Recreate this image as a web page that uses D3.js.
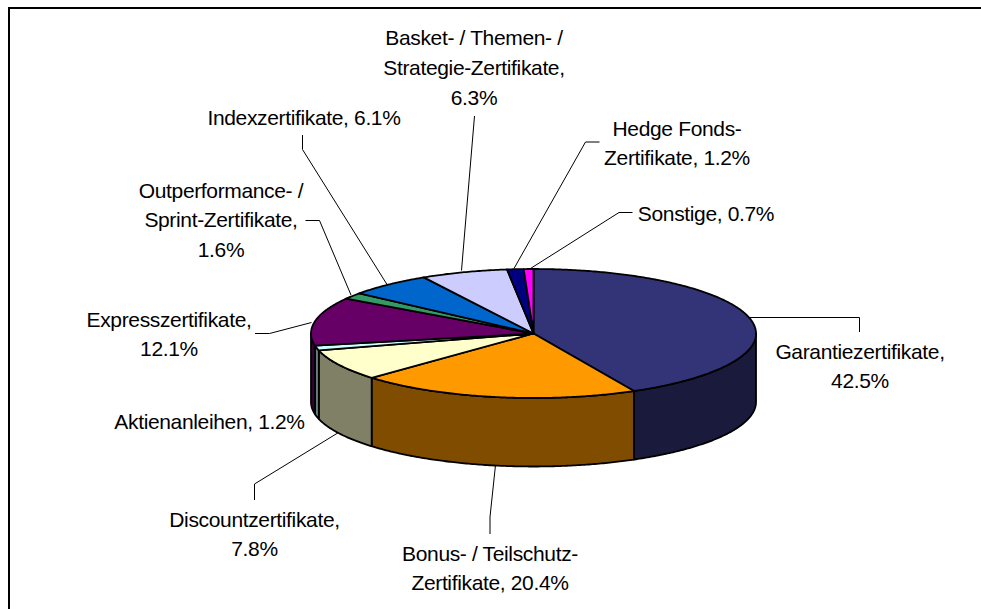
<!DOCTYPE html>
<html>
<head>
<meta charset="utf-8">
<script src="https://cdn.jsdelivr.net/npm/d3@7"></script>
<style>
    html, body { margin: 0; padding: 0; background: #fff; }
    svg { display: block; }
    text { font-family: "Liberation Sans", Arial, sans-serif; font-size: 21px; letter-spacing: -0.35px; fill: #000; }
</style>
</head>
<body>
<div id="chart"></div>
<script>
// data, clockwise from 12 o'clock. \n = line break in the label
var categories = [
    "Garantiezertifikate",
    "Bonus- / Teilschutz-\nZertifikate",
    "Discountzertifikate",
    "Aktienanleihen",
    "Expresszertifikate",
    "Outperformance- /\nSprint-Zertifikate",
    "Indexzertifikate",
    "Basket- / Themen- /\nStrategie-Zertifikate",
    "Hedge Fonds-\nZertifikate",
    "Sonstige"
];
var values = [42.5, 20.4, 7.8, 1.2, 12.1, 1.6, 6.1, 6.3, 1.2, 0.7];
// percent on its own line or behind the name
var valueOnOwnLine = [true, false, true, false, true, true, false, true, false, false];

var topColors = ["#333377", "#FF9900", "#FFFFCC", "#CCFFFF", "#660066", "#339966", "#0066CC", "#CCCCFF", "#000080", "#FF00FF"];
var sideColors = ["#1A1A3C", "#804D00", "#808066", "#668080", "#330033", "#1A4D33", "#003366", "#666680", "#000040", "#800080"];

// label anchors: centre x and first baseline, leader polyline
var labelLayout = [
    { x: 860, y: 358.5, leader: [[859.5, 332], [859.5, 317.5], [750, 317.5]] },
    { x: 490, y: 560.5, leader: [[490, 534], [490, 517], [495.5, 465]] },
    { x: 254.5, y: 526.5, leader: [[254.5, 500], [254.5, 484], [338.5, 432.5]] },
    { x: 209.5, y: 428.5, leader: null },
    { x: 169, y: 326.5, leader: [[255, 333.5], [269.5, 333.5], [311.5, 322.5]] },
    { x: 221, y: 197.5, leader: [[305.5, 220.5], [319.5, 220.5], [351, 295]] },
    { x: 304, y: 124.5, leader: [[302.5, 135], [302.5, 149.5], [387, 284.5]] },
    { x: 474, y: 45, leader: [[474.5, 116], [461.5, 270.5]] },
    { x: 677, y: 135.5, leader: [[599.5, 142], [585.5, 142], [514, 268.5]] },
    { x: 706, y: 220.5, leader: [[632.5, 212.5], [619, 212.5], [530.5, 268.5]] }
];

var width = 981, height = 609;
var cx = 533.5, cy = 333.5, rx = 222.5, ry = 64.5, depth = 68.5;

var svg = d3.select("#chart").append("svg")
    .attr("width", width)
    .attr("height", height);

// chart frame, only top and left are in the picture
svg.append("path")
    .attr("d", "M9," + height + "V8H" + width)
    .attr("fill", "none")
    .attr("stroke", "#000")
    .attr("stroke-width", 2);

var pie = d3.pie().sort(null).value(function(d) { return d; });
var slices = pie(values);

var color = d3.scaleOrdinal().domain(d3.range(values.length)).range(topColors);
var sideColor = d3.scaleOrdinal().domain(d3.range(values.length)).range(sideColors);

// angle on the tilted disc -> screen position
function project(a, dy) {
    return [cx + rx * Math.sin(a), cy - ry * Math.cos(a) + (dy || 0)];
}

function arcPoints(a0, a1, dy) {
    var n = Math.max(2, Math.ceil((a1 - a0) / 0.01));
    return d3.range(n + 1).map(function(i) {
        return project(a0 + (a1 - a0) * i / n, dy);
    });
}

var line = d3.line();

// outer wall, only the part facing the viewer
var front = [Math.PI / 2, Math.PI * 3 / 2];
svg.append("g").selectAll("path")
    .data(slices.filter(function(d) { return d.endAngle > front[0] && d.startAngle < front[1]; }))
    .join("path")
    .attr("d", function(d) {
        var a0 = Math.max(d.startAngle, front[0]);
        var a1 = Math.min(d.endAngle, front[1]);
        return line(arcPoints(a0, a1, 0).concat(arcPoints(a0, a1, depth).reverse())) + "Z";
    })
    .attr("fill", function(d) { return sideColor(d.index); })
    .attr("stroke", "#000")
    .attr("stroke-width", 1.8)
    .attr("stroke-linejoin", "round");

// top of the disc
svg.append("g").selectAll("path")
    .data(slices)
    .join("path")
    .attr("d", function(d) {
        return line([[cx, cy]].concat(arcPoints(d.startAngle, d.endAngle, 0))) + "Z";
    })
    .attr("fill", function(d) { return color(d.index); })
    .attr("stroke", "#000")
    .attr("stroke-width", 1.8)
    .attr("stroke-linejoin", "round");

// leader lines
svg.append("g").selectAll("path")
    .data(labelLayout.filter(function(d) { return d.leader; }))
    .join("path")
    .attr("d", function(d) { return line(d.leader); })
    .attr("fill", "none")
    .attr("stroke", "#000")
    .attr("stroke-width", 1);

// labels
function labelLines(i) {
    var pct = values[i].toFixed(1) + "%";
    if (valueOnOwnLine[i]) {
        return (categories[i] + ",\n" + pct).split("\n");
    }
    return (categories[i] + ", " + pct).split("\n");
}

svg.append("g").selectAll("text")
    .data(labelLayout)
    .join("text")
    .attr("text-anchor", "middle")
    .each(function(d, i) {
        d3.select(this).selectAll("tspan")
            .data(labelLines(i))
            .join("tspan")
            .attr("x", d.x)
            .attr("y", function(s, j) { return d.y + j * 29.8; })
            .text(function(s) { return s; });
    });
</script>
</body>
</html>
